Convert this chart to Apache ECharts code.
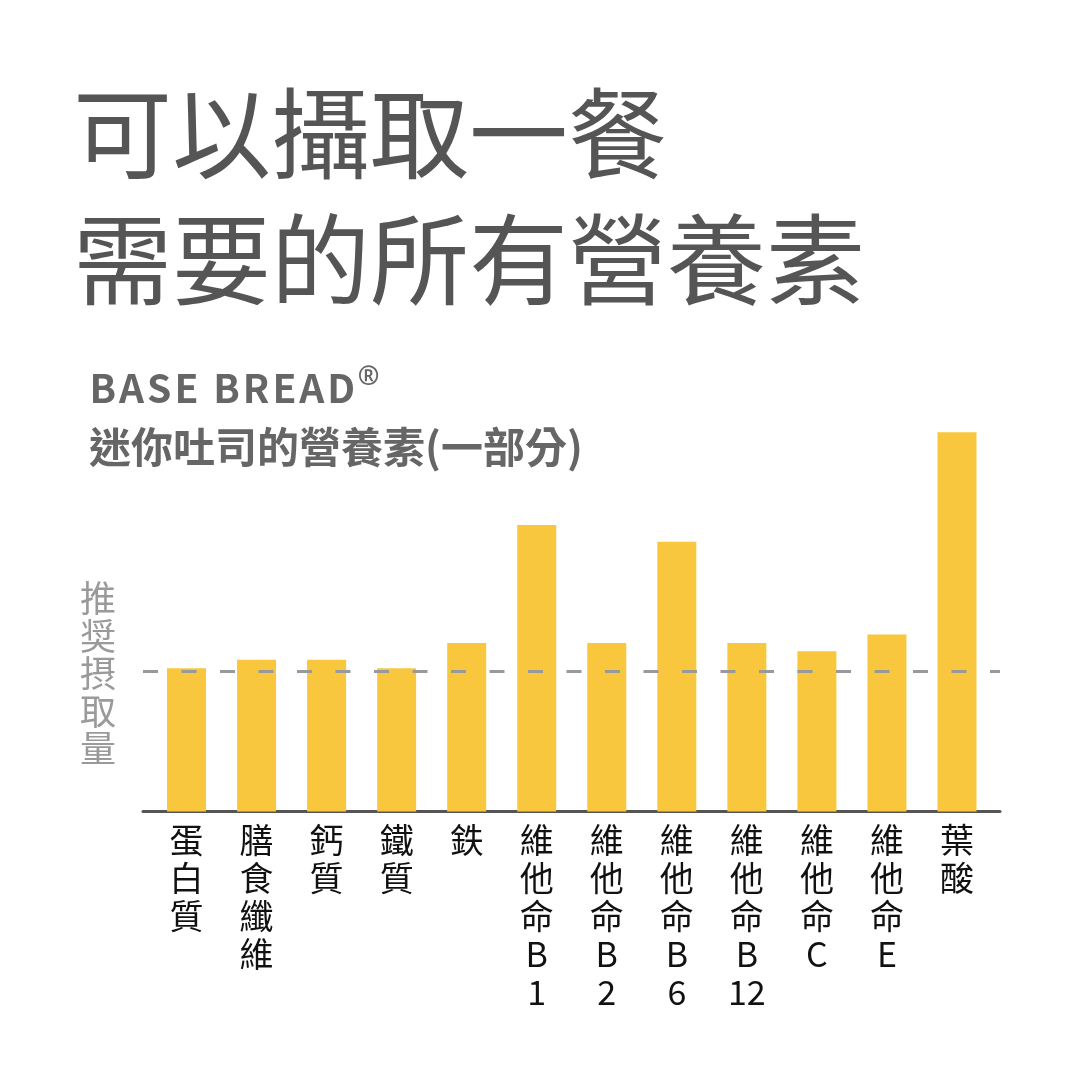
<!DOCTYPE html>
<html>
<head>
<meta charset="utf-8">
<script src="https://cdn.jsdelivr.net/npm/echarts@6/dist/echarts.min.js"></script>
<style>
html,body{margin:0;padding:0;background:#fff;}
#chart{width:1080px;height:1080px;}
</style>
</head>
<body>
<div id="chart"></div>
<script>
// ---- data ----
const titleLine1 = '可以攝取一餐';
const titleLine2 = '需要的所有營養素';
const brandText = 'BASE BREAD';
const brandMark = '®';
const subtitleText = '迷你吐司的營養素(一部分)';
const referenceLabel = '推奨摂取量';
const categories = ['蛋白質', '膳食纖維', '鈣質', '鐵質', '鉄', '維他命B1', '維他命B2', '維他命B6', '維他命B12', '維他命C', '維他命E', '葉酸'];
const values = [102, 108, 108, 102, 120, 204, 120, 192, 120, 114, 126, 270];
const referenceLevel = 100;
const yMax = 300;

// ---- chart ----
const chart = echarts.init(document.getElementById('chart'), null, {renderer: 'canvas'});
const CJK = '"Noto Sans CJK TC", "Noto Sans CJK JP", sans-serif';

function verticalLabel(v) {
  return v.match(/\d+|./g).join('\n');
}
// brand line with letter spacing via rich tokens and a superscript mark
const brandRich = brandText.split('').map(c => '{c|' + (c === ' ' ? '\u00a0' : c) + '}').join('') + '{r|' + brandMark + '}';

const option = {
  backgroundColor: '#ffffff',
  animation: false,
  title: [
    {text: titleLine1, left: 68, top: 76,
     textStyle: {fontFamily: CJK, fontSize: 99, fontWeight: 'normal', color: '#555555', lineHeight: 104}},
    {text: titleLine2, left: 68, top: 202,
     textStyle: {fontFamily: CJK, fontSize: 99, fontWeight: 'normal', color: '#555555', lineHeight: 104}},
    {text: brandRich, left: 83, top: 360,
     textStyle: {fontFamily: CJK, fontSize: 39, fontWeight: 'bold', color: '#666666', lineHeight: 46,
       rich: {
         c: {fontFamily: CJK, fontSize: 39, fontWeight: 'bold', color: '#666666', lineHeight: 46, padding: [0, 1.5, 0, 1.5]},
         r: {fontFamily: '"Noto Sans", sans-serif', fontSize: 26, fontWeight: 'bold', color: '#666666', lineHeight: 30, verticalAlign: 'top', padding: [0, 0, 0, 1]}
       }}},
    {text: subtitleText, left: 84, top: 419,
     textStyle: {fontFamily: CJK, fontSize: 42, fontWeight: 'bold', color: '#666666', lineHeight: 46}},
    {text: referenceLabel.split('').join('\n'), left: 75, top: 575,
     textStyle: {fontFamily: CJK, fontSize: 36, fontWeight: 'normal', color: '#9a9a9a', lineHeight: 37.5}}
  ],
  grid: [
    {left: 151.5, right: 88, top: 390, bottom: 268.5, containLabel: false},
    {left: 143, right: 80, top: 390, bottom: 268.5, containLabel: false}
  ],
  xAxis: [
    {type: 'category', gridIndex: 0, data: categories,
     axisLine: {show: false}, axisTick: {show: false},
     axisLabel: {interval: 0, margin: 10, formatter: verticalLabel,
       fontFamily: CJK, fontSize: 34, color: '#111111', lineHeight: 38, verticalAlign: 'top'}},
    {type: 'category', gridIndex: 1, data: categories,
     axisLine: {show: true, lineStyle: {color: '#555555', width: 3}},
     axisTick: {show: false}, axisLabel: {show: false}}
  ],
  yAxis: [
    {type: 'value', gridIndex: 0, min: 0, max: yMax, show: false, splitLine: {show: false}},
    {type: 'value', gridIndex: 1, min: 0, max: yMax, show: false, splitLine: {show: false}}
  ],
  series: [
    {type: 'bar', xAxisIndex: 0, yAxisIndex: 0, data: values, barWidth: 39,
     itemStyle: {color: '#F9C73E'}, silent: true, z: 2},
    {type: 'line', xAxisIndex: 1, yAxisIndex: 1, data: [], silent: true, z: 5,
     markLine: {silent: true, symbol: ['none', 'none'], label: {show: false},
       lineStyle: {color: '#999999', width: 3, type: [15, 23.5]},
       data: [{yAxis: referenceLevel}]}}
  ]
};
chart.setOption(option);
</script>
</body>
</html>
